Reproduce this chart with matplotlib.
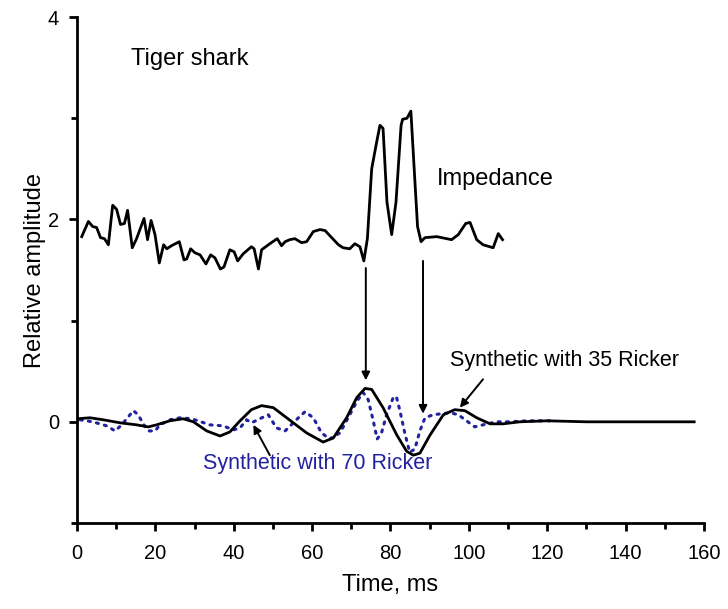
import matplotlib
matplotlib.use("Agg")
import matplotlib.pyplot as plt
from matplotlib.ticker import MultipleLocator

plt.rcParams['font.family'] = ['Liberation Sans', 'DejaVu Sans']

# Impedance trace
imp_t = [1.2, 2.9, 4.0, 5.0, 6.0, 7.0, 8.0, 9.1, 10.1, 11.1, 12.1, 12.9, 14.1, 15.2, 17.1, 18.0,
         18.9, 19.9, 21.0, 22.1, 22.9, 24.1, 26.1, 27.3, 28.0, 29.0, 30.1, 31.4, 32.9, 34.1, 35.2,
         36.6, 37.5, 39.0, 40.1, 41.0, 42.4, 44.5, 45.2, 46.3, 47.1, 49.2, 51.1, 52.2, 53.1, 54.3,
         55.6, 57.3, 58.6, 60.3, 62.0, 63.3, 65.0, 66.7, 67.9, 69.6, 70.9, 72.2, 73.2, 74.1, 75.2,
         76.3, 77.3, 78.1, 79.1, 80.3, 81.4, 82.7, 83.1, 84.2, 85.2, 86.0, 86.9, 87.8, 88.8, 91.8,
         95.6, 97.3, 99.2, 100.3, 102.0, 103.6, 106.2, 107.5, 108.6]
imp_v = [1.83, 1.98, 1.93, 1.92, 1.82, 1.81, 1.75, 2.14, 2.10, 1.95, 1.96, 2.09, 1.72, 1.81, 2.01, 1.80,
         1.99, 1.85, 1.57, 1.75, 1.71, 1.74, 1.78, 1.60, 1.61, 1.71, 1.67, 1.65, 1.56, 1.65, 1.62,
         1.51, 1.53, 1.70, 1.68, 1.59, 1.66, 1.73, 1.71, 1.51, 1.70, 1.76, 1.81, 1.74, 1.78, 1.80,
         1.81, 1.77, 1.78, 1.88, 1.90, 1.89, 1.82, 1.75, 1.72, 1.71, 1.76, 1.73, 1.59, 1.81, 2.50,
         2.73, 2.93, 2.90, 2.17, 1.85, 2.17, 2.93, 2.99, 3.00, 3.07, 2.53, 1.93, 1.78, 1.82, 1.83,
         1.80, 1.85, 1.96, 1.97, 1.80, 1.75, 1.72, 1.86, 1.80]

# Synthetic with 35 Hz Ricker (solid)
s35_t = [0, 3.3, 6.7, 11, 15.2, 18.2, 20.3, 23.7, 27.1, 29.7, 33.1, 36.5, 39.0, 41.6, 44.5, 47.1,
         50.1, 53.5, 56.9, 58.6, 62.8, 65.4, 68.8, 71.4, 73.5, 75.2, 78.1, 81.6, 84.1, 85.8, 87.5,
         90.1, 93.5, 96.4, 99.0, 102.0, 105.4, 108.7, 113.0, 120.0, 130.0, 140.0, 150.0, 157.5]
s35_v = [0.03, 0.04, 0.02, -0.01, -0.03, -0.05, -0.03, 0.01, 0.03, 0.0, -0.09, -0.14, -0.10, 0.01, 0.12, 0.16,
         0.14, 0.04, -0.06, -0.11, -0.20, -0.16, 0.04, 0.24, 0.33, 0.32, 0.14, -0.13, -0.29, -0.33, -0.31,
         -0.13, 0.07, 0.12, 0.11, 0.04, -0.02, -0.02, 0.0, 0.01, 0.0, 0.0, 0.0, 0.0]

# Synthetic with 70 Hz Ricker (dotted)
s70_t = [0.8, 4.0, 7.6, 9.7, 11.4, 13.1, 14.4, 15.6, 16.9, 18.2, 19.9, 21.2, 23.7, 26.3, 29.2, 30.9,
         33.9, 37.3, 39.9, 41.6, 43.3, 44.5, 48.8, 50.9, 53.1, 56.5, 58.2, 60.3, 62.4, 64.5, 67.1,
         69.6, 71.4, 73.0, 74.3, 75.6, 76.6, 77.7, 79.0, 80.7, 81.5, 82.4, 83.7, 84.9, 86.2, 87.5,
         88.8, 90.9, 95.2, 97.3, 99.4, 101.5, 103.6, 107.0, 110.0, 115.0, 121.0]
s70_v = [0.02, 0.0, -0.04, -0.09, -0.03, 0.05, 0.11, 0.07, -0.02, -0.09, -0.09, -0.03, 0.02, 0.04, 0.03, 0.01,
         -0.03, -0.04, -0.08, -0.06, 0.02, -0.01, 0.07, -0.06, -0.09, 0.04, 0.10, 0.04, -0.11, -0.17, -0.11,
         0.07, 0.20, 0.29, 0.22, 0.01, -0.17, -0.11, 0.07, 0.24, 0.25, 0.11, -0.12, -0.30, -0.27, -0.09,
         0.04, 0.07, 0.09, 0.07, 0.01, -0.05, -0.03, 0.0, 0.0, 0.01, 0.01]

x_ticks = [0, 20, 40, 60, 80, 100, 120, 140, 160]
y_ticks = [0, 2, 4]

fig = plt.figure(figsize=(7.28, 6.09), dpi=100)
ax = fig.add_axes([0.1058, 0.1412, 0.967 - 0.1058, 0.972 - 0.1412])

blue = '#22229e'
ax.plot(imp_t, imp_v, color='black', lw=2.0)
ax.plot(s70_t, s70_v, color=blue, lw=2.2, linestyle=(0, (0.7, 2.0)), dash_capstyle='round')
ax.plot(s35_t, s35_v, color='black', lw=2.0)

ax.set_xlim(0, 160)
ax.set_ylim(-1, 4)
ax.set_xticks(x_ticks)
ax.set_yticks(y_ticks)
ax.xaxis.set_minor_locator(MultipleLocator(10))
ax.yaxis.set_minor_locator(MultipleLocator(1))
ax.tick_params(which='major', direction='out', length=6, width=2.0, labelsize=14.5)
ax.tick_params(axis='x', which='major', pad=9)
ax.tick_params(axis='y', which='major', pad=7)
ax.tick_params(which='minor', direction='out', length=4, width=2.0)
for s in ['top', 'right']:
    ax.spines[s].set_visible(False)
for s in ['left', 'bottom']:
    ax.spines[s].set_linewidth(2.0)

ax.set_xlabel('Time, ms', fontsize=17, labelpad=8)
ax.set_ylabel('Relative amplitude', fontsize=17, labelpad=1)

ax.text(13.8, 3.59, 'Tiger shark', fontsize=17, va='center', ha='left')
ax.text(91.8, 2.40, 'Impedance', fontsize=17, va='center', ha='left')

ap = dict(arrowstyle='-|>', color='black', lw=1.4, mutation_scale=12, shrinkA=0, shrinkB=0)
ax.annotate('', xy=(73.7, 0.41), xytext=(73.7, 1.52), arrowprops=ap)
ax.annotate('', xy=(88.3, 0.08), xytext=(88.3, 1.59), arrowprops=ap)
ax.annotate('', xy=(97.7, 0.14), xytext=(103.6, 0.42), arrowprops=ap)
ax.annotate('', xy=(45.0, -0.03), xytext=(49.2, -0.33), arrowprops=ap)

ax.text(95.2, 0.61, 'Synthetic with 35 Ricker', fontsize=15.5, va='center', ha='left')
ax.text(32.1, -0.41, 'Synthetic with 70 Ricker', fontsize=15.5, va='center', ha='left', color=blue)

fig.savefig('out.png', dpi=100)
